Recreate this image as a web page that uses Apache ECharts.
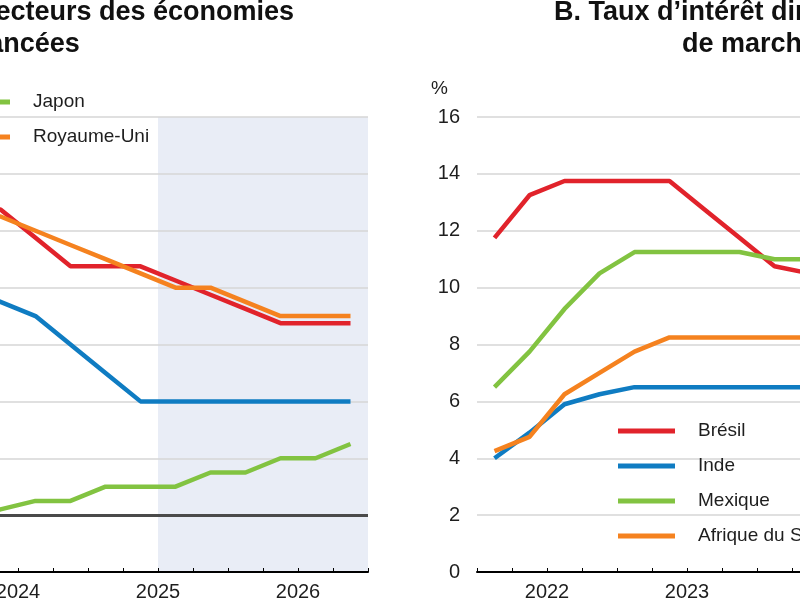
<!DOCTYPE html>
<html lang="fr">
<head>
  <meta http-equiv="Content-Type" content="text/html; charset=UTF-8">
  <title>Taux d'intérêt directeurs</title>
  <style>
    html, body {
      margin: 0;
      padding: 0;
      width: 800px;
      height: 600px;
      overflow: hidden;
      background: #fff;
    }
    /* la figure est plus large que la fenêtre : on n'en voit que le milieu */
    #myChart {
      position: absolute;
      left: -400px;
      top: 0;
      width: 1600px;
      height: 600px;
    }
  </style>
</head>
<body>
  <div id="myChart"></div>
  <script src="https://cdn.jsdelivr.net/npm/echarts@6/dist/echarts.min.js"></script>
  <script>
    // années (axe des abscisses)
    const years = ['2022', '2023', '2024', '2025', '2026'];

    // A. Économies avancées, données trimestrielles
    const quartersA = ['2024T1', '2024T2', '2024T3', '2024T4', '2025T1', '2025T2',
      '2025T3', '2025T4', '2026T1', '2026T2', '2026T3', '2026T4'];
    const etatsUnis = [5.375, 5.375, 4.875, 4.375, 4.375, 4.375, 4.125, 3.875, 3.625, 3.375, 3.375, 3.375];
    const zoneEuro = [4.0, 3.75, 3.5, 3.0, 2.5, 2.0, 2.0, 2.0, 2.0, 2.0, 2.0, 2.0];
    const japon = [0.1, 0.1, 0.25, 0.25, 0.5, 0.5, 0.5, 0.75, 0.75, 1.0, 1.0, 1.25];
    const royaumeUni = [5.25, 5.25, 5.0, 4.75, 4.5, 4.25, 4.0, 4.0, 3.75, 3.5, 3.5, 3.5];
    // début des projections
    const debutProjection = '2025T3';

    // B. Économies de marché émergentes
    const quartersB = ['2022T1', '2022T2', '2022T3', '2022T4', '2023T1', '2023T2',
      '2023T3', '2023T4', '2024T1', '2024T2'];
    const bresil = [11.75, 13.25, 13.75, 13.75, 13.75, 13.75, 12.75, 11.75, 10.75, 10.5];
    const inde = [4.0, 4.9, 5.9, 6.25, 6.5, 6.5, 6.5, 6.5, 6.5, 6.5];
    const mexique = [6.5, 7.75, 9.25, 10.5, 11.25, 11.25, 11.25, 11.25, 11.0, 11.0];
    const afriqueSud = [4.25, 4.75, 6.25, 7.0, 7.75, 8.25, 8.25, 8.25, 8.25, 8.25];

    const FONT = '"Liberation Sans", Arial, sans-serif';
    const colors = {
      rouge: '#e1232b',
      bleu: '#0f7cc2',
      vert: '#82c341',
      orange: '#f5821f'
    };

    // milieu du trimestre, en années
    function mid(q) {
      return +q.slice(0, 4) + (+q.slice(5) - 0.5) / 4;
    }
    // début du trimestre
    function start(q) {
      return +q.slice(0, 4) + (+q.slice(5) - 1) / 4;
    }

    function line(name, quarters, values, color, idx) {
      return {
        name,
        type: 'line',
        xAxisIndex: idx * 2,
        yAxisIndex: idx,
        data: quarters.map((q, i) => [mid(q), values[i]]),
        symbol: 'none',
        lineStyle: { width: 4.5, color },
        itemStyle: { color },
        emphasis: { disabled: true },
        silent: true,
        z: 2
      };
    }

    function xAxes(g) {
      return [{
        gridIndex: g,
        type: 'value',
        min: 2022,
        max: 2027,
        interval: 0.25,
        z: 1.5,
        axisLine: { show: false, onZero: false },
        axisTick: { show: true, inside: true, length: 4, lineStyle: { color: '#000', width: 1 } },
        axisLabel: { show: false },
        splitLine: { show: false }
      }, {
        gridIndex: g,
        type: 'category',
        data: years,
        boundaryGap: true,
        position: 'bottom',
        z: 1.5,
        axisLine: { onZero: false, lineStyle: { color: '#000', width: 2 } },
        axisTick: { inside: true, length: 11, interval: 0, lineStyle: { color: '#000', width: 1 } },
        axisLabel: { interval: 0, fontSize: 20, color: '#1e1e1e', margin: 10, fontFamily: FONT },
        splitLine: { show: false }
      }];
    }

    function yAxis(g, min, max, interval) {
      return {
        gridIndex: g,
        type: 'value',
        min,
        max,
        interval,
        z: 1.5,
        name: '%',
        nameLocation: 'end',
        nameGap: 19,
        nameTextStyle: {
          fontSize: 19, color: '#1e1e1e', fontFamily: FONT,
          align: 'right', verticalAlign: 'bottom', padding: [0, 29, 0, 0]
        },
        axisLine: { show: false },
        axisTick: { show: false },
        axisLabel: { fontSize: 20, color: '#1e1e1e', margin: 17, fontFamily: FONT },
        splitLine: { lineStyle: { color: '#d6d6d6', width: 1.5 } }
      };
    }

    const legendBase = {
      orient: 'vertical',
      icon: 'rect',
      itemWidth: 57,
      itemHeight: 5,
      itemGap: 13,
      selectedMode: false,
      textStyle: { fontSize: 19, color: '#1e1e1e', lineHeight: 22, padding: [0, 0, 0, 18], fontFamily: FONT }
    };

    const seriesA = [
      line('États-Unis', quartersA, etatsUnis, colors.rouge, 0),
      line('Zone euro', quartersA, zoneEuro, colors.bleu, 0),
      line('Japon', quartersA, japon, colors.vert, 0),
      line('Royaume-Uni', quartersA, royaumeUni, colors.orange, 0)
    ];
    // zone de projection et ligne du zéro
    seriesA[0].markArea = {
      silent: true,
      itemStyle: { color: '#e9edf6' },
      data: [[{ xAxis: start(debutProjection) }, { xAxis: 2027 }]]
    };
    seriesA[0].markLine = {
      silent: true,
      symbol: ['none', 'none'],
      label: { show: false },
      lineStyle: { color: '#4a4a4a', width: 3, type: 'solid' },
      data: [{ yAxis: 0 }]
    };

    const seriesB = [
      line('Brésil', quartersB, bresil, colors.rouge, 1),
      line('Inde', quartersB, inde, colors.bleu, 1),
      line('Mexique', quartersB, mexique, colors.vert, 1),
      line('Afrique du Sud', quartersB, afriqueSud, colors.orange, 1)
    ];

    const titleStyle = {
      font: 'bold 27px ' + FONT,
      fill: '#111',
      lineHeight: 32,
      align: 'center',
      textAlign: 'center',
      verticalAlign: 'top',
      textVerticalAlign: 'top'
    };

    const option = {
      animation: false,
      grid: [
        { left: 68, top: 117, width: 700, height: 455, outerBoundsMode: 'none' },
        { left: 877, top: 117, width: 700, height: 455, outerBoundsMode: 'none' }
      ],
      xAxis: [...xAxes(0), ...xAxes(1)],
      yAxis: [yAxis(0, -1, 7, 1), yAxis(1, 0, 16, 2)],
      legend: [
        Object.assign({}, legendBase, { data: ['États-Unis', 'Zone euro'], left: 148, top: 86 }),
        Object.assign({}, legendBase, { data: ['Japon', 'Royaume-Uni'], left: 348, top: 86 }),
        Object.assign({}, legendBase, { data: ['Brésil', 'Inde', 'Mexique', 'Afrique du Sud'], left: 1013, top: 415 })
      ],
      graphic: [{
        type: 'text',
        x: 419,
        y: -3,
        style: Object.assign({ text: 'A. Taux d\u2019intérêt directeurs des économies\navancées' }, titleStyle)
      }, {
        type: 'text',
        x: 1229,
        y: -3,
        style: Object.assign({ text: 'B. Taux d\u2019intérêt directeurs des économies\nde marché émergentes' }, titleStyle)
      }],
      series: [...seriesA, ...seriesB]
    };

    const myChart = echarts.init(document.getElementById('myChart'));
    myChart.setOption(option);
  </script>
</body>
</html>
